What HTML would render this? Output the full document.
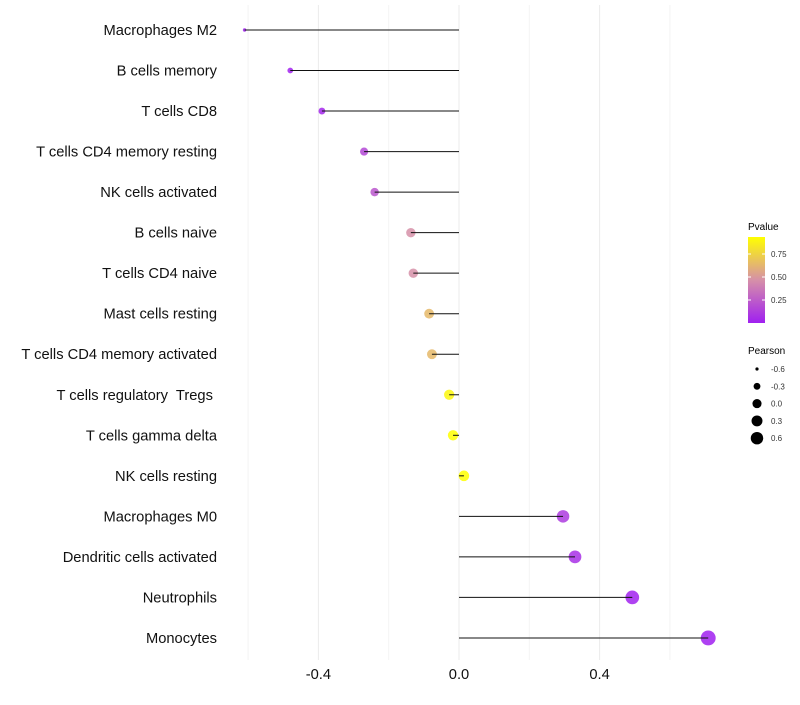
<!DOCTYPE html>
<html><head><meta charset="utf-8"><style>
body{margin:0;background:#fff;font-family:"Liberation Sans",sans-serif;}
svg text{font-family:"Liberation Sans",sans-serif;white-space:pre;}
</style></head><body>
<svg id="chart" width="800" height="700" xmlns="http://www.w3.org/2000/svg">
<defs><linearGradient id="pg" x1="0" y1="1" x2="0" y2="0">
<stop offset="0" stop-color="#a020f0"/><stop offset="0.5" stop-color="#d690a8"/><stop offset="1" stop-color="#ffff00"/>
</linearGradient></defs>
<g id="grid"></g>
<g id="marks"></g>
<g id="labels"></g>
<g id="xticks"></g>
<g>
<text x="748" y="230" font-size="10">Pvalue</text>
<rect x="748" y="237" width="17" height="86" fill="url(#pg)"/>
<g id="cbticks"></g>
</g>
<g id="sizeleg">
<text x="748" y="354" font-size="10">Pearson</text>
</g>
</svg>
<script>
const categories=["Macrophages M2","B cells memory","T cells CD8","T cells CD4 memory resting","NK cells activated","B cells naive","T cells CD4 naive","Mast cells resting","T cells CD4 memory activated","T cells regulatory  Tregs ","T cells gamma delta","NK cells resting","Macrophages M0","Dendritic cells activated","Neutrophils","Monocytes"];
const pearson=[-0.61,-0.48,-0.39,-0.27,-0.24,-0.137,-0.13,-0.085,-0.077,-0.028,-0.017,0.014,0.296,0.33,0.493,0.709];
const pvalue=[0.0,0.01,0.03,0.18,0.24,0.5,0.5,0.66,0.66,0.9,0.95,0.97,0.12,0.07,0.01,0.0];
const xTicks=[-0.4,0.0,0.4];
const xMinor=[-0.6,-0.2,0.2,0.6];
const cbTicks=[0.25,0.5,0.75];
const sizeTicks=[-0.6,-0.3,0.0,0.3,0.6];
const NS="http://www.w3.org/2000/svg";
const X=v=>459+v*351.5;
const Y=i=>30+i*40.53;
const R=v=>Math.sqrt(Math.max(0.5,3+40*(v+0.61)));
function col(p){
 const s=[[0,[160,32,240]],[0.5,[214,144,168]],[0.93,[255,255,0]],[1,[255,255,0]]];
 for(let k=0;k<s.length-1;k++){if(p<=s[k+1][0]){const t=(p-s[k][0])/(s[k+1][0]-s[k][0]);const c=s[k][1].map((a,j)=>Math.round(a+(s[k+1][1][j]-a)*t));return `rgb(${c})`;}}
 return "rgb(255,255,0)";}
const CBY=p=>323-p*92;
function mk(t,a,parent){const e=document.createElementNS(NS,t);for(const k in a)e.setAttribute(k,a[k]);document.getElementById(parent).appendChild(e);return e;}
xMinor.forEach(v=>{const l=mk("line",{x1:X(v),x2:X(v),y1:5,y2:660,stroke:"#f4f4f4","stroke-width":1},"grid");

});
xTicks.forEach(v=>{const l=mk("line",{x1:X(v),x2:X(v),y1:5,y2:660,stroke:"#ebebeb","stroke-width":1},"grid");


const t=mk("text",{x:X(v),y:679,"font-size":14.7,"text-anchor":"middle",fill:"#111"},"xticks");t.textContent=(v===0?"0.0":v.toFixed(1));

});
categories.forEach((c,i)=>{
 const t=mk("text",{x:217,y:Y(i)+5,"font-size":14.7,"text-anchor":"end",fill:"#111"},"labels");t.textContent=c;
 
 
 const d=mk("circle",{cx:X(pearson[i]),cy:Y(i),r:R(pearson[i]),fill:col(pvalue[i]),"fill-opacity":0.85},"marks");
 
 
 const l=mk("line",{x1:X(0),x2:X(pearson[i]),y1:Y(i),y2:Y(i),stroke:"#111","stroke-width":1},"marks");
 
 
});
cbTicks.forEach(p=>{
 mk("line",{x1:748,x2:751,y1:CBY(p),y2:CBY(p),stroke:"#fff"},"cbticks");
 mk("line",{x1:762,x2:765,y1:CBY(p),y2:CBY(p),stroke:"#fff"},"cbticks");
 const t=mk("text",{x:771,y:CBY(p)+3,"font-size":8,fill:"#333"},"cbticks");t.textContent=p.toFixed(2);
 
 
});
sizeTicks.forEach((v,k)=>{
 const y=369+k*17.3;
 const c=mk("circle",{cx:757,cy:y,r:R(v)*0.87,fill:"#000"},"sizeleg");
 
 
 const t=mk("text",{x:771,y:y+3,"font-size":8,fill:"#333"},"sizeleg");t.textContent=v.toFixed(1);
 
 
});
</script>
</body></html>
